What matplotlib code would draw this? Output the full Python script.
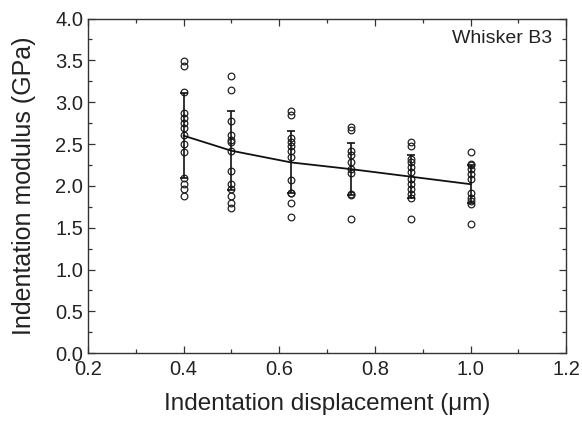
import numpy as np
import matplotlib.pyplot as plt
from matplotlib.ticker import MultipleLocator

plt.rcParams['font.family'] = ['Liberation Sans', 'DejaVu Sans']

# indentation displacement (um) and the measured moduli at each depth (GPa)
depth = [0.4, 0.5, 0.625, 0.75, 0.875, 1.0]
modulus = [
    [3.49, 3.43, 3.12, 2.87, 2.81, 2.75, 2.69, 2.61, 2.50, 2.40, 2.09, 2.02, 1.96, 1.88],
    [3.31, 3.15, 2.77, 2.61, 2.55, 2.52, 2.42, 2.18, 2.02, 1.96, 1.88, 1.80, 1.74],
    [2.90, 2.85, 2.57, 2.52, 2.48, 2.42, 2.35, 2.07, 1.92, 1.91, 1.80, 1.63],
    [2.70, 2.67, 2.42, 2.37, 2.28, 2.20, 2.15, 1.90, 1.89, 1.61],
    [2.53, 2.48, 2.32, 2.28, 2.22, 2.16, 2.08, 2.02, 1.96, 1.90, 1.85, 1.60],
    [2.41, 2.26, 2.25, 2.20, 2.14, 2.08, 1.92, 1.86, 1.82, 1.78, 1.54],
]
mean = [2.60, 2.42, 2.28, 2.20, 2.11, 2.02]
sd = [0.51, 0.47, 0.37, 0.31, 0.26, 0.23]

fig = plt.figure(figsize=(5.82, 4.21), dpi=100)
ax = fig.add_axes([0.151, 0.161, 0.822, 0.795])

for x, vals in zip(depth, modulus):
    ax.plot([x] * len(vals), vals, 'o', mfc='none', mec='#222222', ms=4.8, mew=0.9)

ax.errorbar(depth, mean, yerr=sd, color='#111111', lw=1.3, elinewidth=1.2,
            capsize=3, capthick=1.2)

ax.text(0.97, 0.965, 'Whisker B3', transform=ax.transAxes, ha='right', va='top',
        fontsize=14, color='#222222')

ax.set_xlim(0.2, 1.2)
ax.set_ylim(0.0, 4.0)
ax.xaxis.set_major_locator(MultipleLocator(0.2))
ax.xaxis.set_minor_locator(MultipleLocator(0.1))
ax.yaxis.set_major_locator(MultipleLocator(0.5))
ax.yaxis.set_minor_locator(MultipleLocator(0.25))
ax.xaxis.set_major_formatter(plt.FuncFormatter(lambda v, p: f'{v:.1f}'))
ax.yaxis.set_major_formatter(plt.FuncFormatter(lambda v, p: f'{v:.1f}'))
ax.tick_params(which='both', direction='in', top=True, right=True, labelsize=14.5,
               colors='#333333', labelcolor='#222222')
ax.tick_params(which='major', length=5, width=0.9)
ax.tick_params(which='minor', length=3, width=0.9)
ax.tick_params(axis='x', pad=5)
for s in ax.spines.values():
    s.set_linewidth(1.0)
    s.set_color('#333333')

ax.set_xlabel('Indentation displacement (\u03bcm)', fontsize=17.5, color='#222222', labelpad=10)
ax.set_ylabel('Indentation modulus (GPa)', fontsize=18, color='#222222', labelpad=14)

fig.savefig('out.png', dpi=100)
